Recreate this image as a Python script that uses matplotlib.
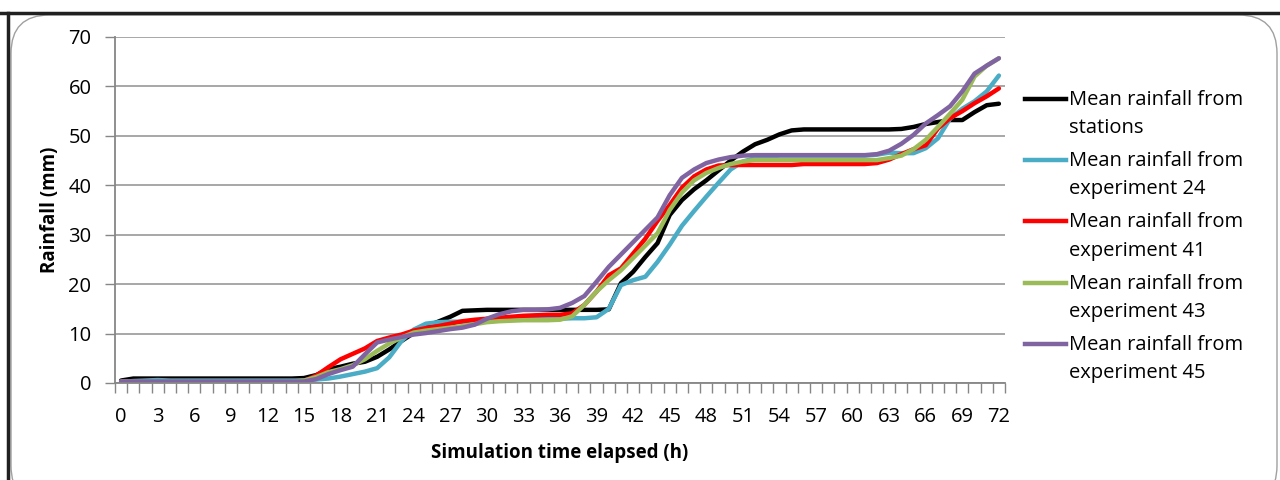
import numpy as np
import matplotlib
matplotlib.use("Agg")
from matplotlib import pyplot as plt
from matplotlib.lines import Line2D
from matplotlib.patches import FancyBboxPatch

plt.rcParams['font.family'] = ['Open Sans', 'DejaVu Sans']

# hourly cumulative rainfall (mm)
hours = list(range(73))

stations = [0.5, 0.9, 0.9, 0.9, 0.9, 0.9, 0.9, 0.9, 0.9, 0.9,
            0.9, 0.9, 0.9, 0.9, 0.9, 1.0, 1.6, 2.8, 3.3, 3.9,
            4.3, 5.3, 6.8, 8.5, 10.1, 11.4, 12.4, 13.4, 14.6, 14.7,
            14.8, 14.8, 14.8, 14.8, 14.8, 14.8, 14.8, 14.8, 14.8, 14.8,
            14.9, 20.2, 22.5, 25.5, 28.3, 34.0, 37.0, 39.2, 41.0, 43.0,
            45.0, 46.8, 48.3, 49.2, 50.3, 51.1, 51.3, 51.3, 51.3, 51.3,
            51.3, 51.3, 51.3, 51.3, 51.4, 51.8, 52.4, 52.8, 53.2, 53.2,
            54.8, 56.2, 56.5]

exp24 = [0.2, 0.4, 0.5, 0.6, 0.5, 0.5, 0.5, 0.5, 0.5, 0.5,
         0.5, 0.5, 0.5, 0.5, 0.5, 0.5, 0.7, 0.9, 1.3, 1.8,
         2.3, 3.0, 5.2, 8.5, 10.8, 12.0, 12.3, 12.4, 12.4, 12.5,
         12.6, 12.8, 12.9, 12.9, 13.0, 13.0, 13.0, 13.1, 13.1, 13.3,
         15.0, 19.8, 20.8, 21.5, 24.5, 28.0, 31.8, 34.8, 37.7, 40.5,
         43.2, 44.8, 45.5, 45.8, 46.0, 46.0, 46.0, 46.0, 46.0, 46.0,
         46.0, 46.0, 46.2, 46.6, 46.5, 46.5, 47.5, 49.5, 53.5, 55.5,
         57.0, 59.0, 62.2]

exp41 = [0.2, 0.2, 0.2, 0.2, 0.2, 0.0, 0.0, 0.0, 0.0, 0.0,
         0.0, 0.0, 0.0, 0.0, 0.0, 0.4, 1.5, 3.2, 4.8, 5.9,
         7.0, 8.5, 9.2, 9.8, 10.6, 11.1, 11.5, 12.0, 12.5, 12.8,
         13.0, 13.2, 13.4, 13.6, 13.7, 13.8, 13.8, 14.1, 15.8, 18.5,
         21.8, 23.2, 26.2, 29.2, 32.8, 36.0, 39.5, 41.8, 43.2, 44.0,
         44.1, 44.1, 44.1, 44.1, 44.1, 44.1, 44.3, 44.3, 44.3, 44.3,
         44.3, 44.3, 44.5, 45.2, 46.3, 47.3, 48.1, 51.5, 53.6, 55.0,
         56.6, 58.0, 59.6]

exp43 = [0.3, 0.3, 0.3, 0.3, 0.3, 0.3, 0.3, 0.3, 0.3, 0.3,
         0.3, 0.3, 0.3, 0.3, 0.3, 0.5, 1.2, 2.2, 2.8, 3.6,
         4.8, 6.5, 8.0, 9.2, 10.2, 10.6, 10.9, 11.2, 11.5, 11.9,
         12.3, 12.5, 12.6, 12.7, 12.7, 12.7, 12.8, 13.5, 15.8, 18.5,
         20.8, 22.8, 25.3, 27.8, 30.3, 35.0, 38.5, 41.0, 42.5, 43.5,
         44.3, 44.8, 45.1, 45.1, 45.1, 45.1, 45.1, 45.1, 45.1, 45.1,
         45.1, 45.1, 45.1, 45.5, 46.0, 47.3, 49.2, 51.8, 54.5, 57.3,
         62.0, 64.2, 65.7]

exp45 = [0.3, 0.3, 0.3, 0.3, 0.3, 0.3, 0.3, 0.3, 0.3, 0.3,
         0.3, 0.3, 0.3, 0.3, 0.3, 0.3, 0.8, 1.8, 2.6, 3.3,
         5.8, 8.2, 8.8, 9.3, 9.8, 10.1, 10.5, 10.9, 11.2, 11.8,
         13.0, 13.9, 14.5, 14.8, 14.8, 14.9, 15.2, 16.2, 17.6, 20.5,
         23.5, 26.0, 28.5, 31.0, 33.5, 38.0, 41.5, 43.2, 44.5, 45.2,
         45.7, 46.0, 46.1, 46.1, 46.1, 46.1, 46.1, 46.1, 46.1, 46.1,
         46.1, 46.1, 46.3, 47.0, 48.4, 50.2, 52.5, 54.2, 56.0, 59.0,
         62.6, 64.2, 65.7]

series = [stations, exp24, exp41, exp43, exp45]
labels = ["Mean rainfall from\nstations",
          "Mean rainfall from\nexperiment 24",
          "Mean rainfall from\nexperiment 41",
          "Mean rainfall from\nexperiment 43",
          "Mean rainfall from\nexperiment 45"]
colors = ["#000000", "#4BACC6", "#FF0000", "#9BBB59", "#8064A2"]

x_labels = list(range(0, 73, 3))
y_ticks = list(range(0, 71, 10))

fig = plt.figure(figsize=(12.8, 4.8), dpi=100)

# frame round the chart
fig.add_artist(FancyBboxPatch((11/1280, -0.05), 1266/1280, (465 + 24)/480,
                              boxstyle="round,pad=0,rounding_size=0.03",
                              transform=fig.transFigure, facecolor="none",
                              edgecolor="#A0A0A0", lw=1.0, mutation_aspect=2.67,
                              zorder=-5))
fig.add_artist(Line2D([0, 1], [1 - 13/480, 1 - 13/480], color="#202020", lw=2.5))
fig.add_artist(Line2D([8/1280, 8/1280], [0, 1 - 13/480], color="#202020", lw=2.5))

ax = fig.add_axes([115/1280, 1 - 383/480, 890/1280, 346/480])
ax.set_facecolor("none")

for vals, col in zip(series, colors):
    ax.plot(hours, vals, color=col, lw=3.2, solid_capstyle="round", solid_joinstyle="round")

ax.set_xlim(-0.5, 72.5)
ax.set_ylim(0, 70)
ax.set_yticks(y_ticks)
ax.set_xticks(x_labels)
ax.set_xticks(np.arange(-0.5, 73, 1), minor=True)
ax.tick_params(axis="x", which="major", length=0, pad=17, labelsize=14.5, colors="#000000")
ax.tick_params(axis="x", which="minor", length=7, color="#868686", width=1)
ax.tick_params(axis="y", length=7, color="#868686", width=1, labelsize=14.5, pad=10)

ax.grid(axis="y", color="#A0A0A0", lw=1.3)
ax.set_axisbelow(True)
for s in ["top", "right"]:
    ax.spines[s].set_visible(False)
for s in ["left", "bottom"]:
    ax.spines[s].set_color("#868686")
    ax.spines[s].set_linewidth(1.3)

ax.set_xlabel("Simulation time elapsed (h)", fontsize=13.5, fontweight="bold", labelpad=12)
ax.set_ylabel("Rainfall (mm)", fontsize=13.5, fontweight="bold", labelpad=6)

# legend, line sits next to the first text line like in Excel
for i, (lab, col) in enumerate(zip(labels, colors)):
    y0 = 1 - (99 + 61.2 * i) / 480
    fig.add_artist(Line2D([1025/1280, 1066/1280], [y0, y0], color=col, lw=3.2))
    fig.text(1069/1280, y0 + 9/480, lab, fontsize=14.5, va="top", ha="left",
             linespacing=1.55)

fig.savefig("out.png", dpi=100)
